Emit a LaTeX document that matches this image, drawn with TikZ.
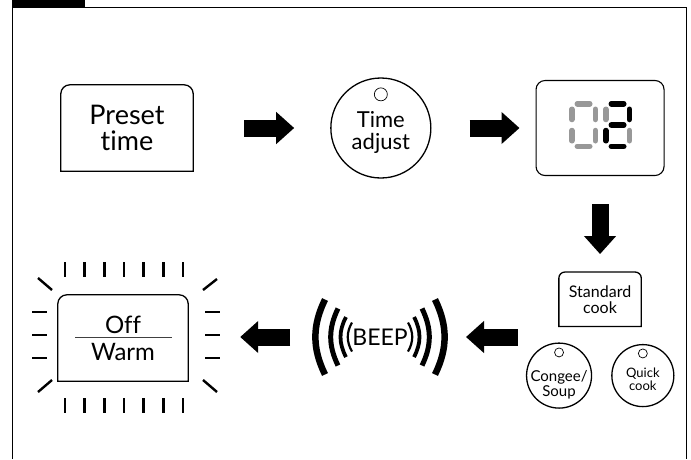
\documentclass[tikz,border=0pt]{standalone}
\usepackage{fontspec}
\setmainfont{Lato}[Ligatures=NoCommon]
\usepackage{tikz}
\usetikzlibrary{arrows.meta,positioning,calc}
\definecolor{lcdoff}{RGB}{152,152,152}

\begin{document}
\begin{tikzpicture}[x=1pt, y=-1pt, >=Latex]
\tikzstyle{keybox}=[inner sep=0pt, align=center]
\tikzstyle{knob}=[draw, circle, line width=1.3pt, inner sep=0pt]
\tikzstyle{lbl}=[inner sep=0pt, align=center]
\tikzstyle{led}=[line width=0.7pt]
\tikzstyle{outline}=[line width=1.3pt]
\tikzstyle{blockarrow}=[line width=17pt, -{Triangle[length=18pt,width=31pt]}]
\tikzstyle{ray}=[line width=2.4pt]
\tikzstyle{lcdseg}=[line width=5.5pt, line cap=round, shorten <=5.5pt, shorten >=5.5pt]

\useasboundingbox (0,0) rectangle (691,459);

% frame with tab
\fill (12,0) rectangle (85,8);
\draw[line width=1.8pt] (12.5,459) -- (12.5,7.5) -- (686.5,7.5) -- (686.5,459);

% top row
\node[keybox, minimum width=132pt, minimum height=86pt, font=\fontsize{27}{26}\selectfont] (preset) at (127,128) {Preset\\time};
\node[knob, minimum size=100pt, right=137pt of preset] (timeadj) {};
\node[lbl, font=\fontsize{22}{22}\selectfont] (timeadjtxt) at ([yshift=-4pt]timeadj.center) {Time\\adjust};
\node[draw, line width=1.1pt, rounded corners=9pt, minimum width=128pt, minimum height=95pt, right=104pt of timeadj] (display) {};

% right column
\node[keybox, minimum width=82pt, minimum height=54pt, below=96pt of display, font=\fontsize{16}{16}\selectfont] (stdcook) {Standard\\cook};
\node[knob, minimum size=65pt, below=16pt of stdcook, xshift=-41pt] (congee) {};
\node[knob, minimum size=62pt, right=19pt of congee] (quick) {};
\node[lbl, font=\fontsize{15}{15}\selectfont] (congeetxt) at ([yshift=-9pt]congee.center) {Congee/\\Soup};
\node[lbl, font=\fontsize{13}{13}\selectfont] (quicktxt) at ([yshift=-4pt]quick.center) {Quick\\cook};

% bottom row
\node[lbl, font=\fontsize{23}{23}\selectfont] (beep) at (380,337) {BEEP};
\node[keybox, minimum width=130pt, minimum height=86pt, font=\fontsize{24}{27}\selectfont] (offwarm) at (123,338) {Off\\Warm};

% keys: only the top corners are rounded
\foreach \b/\r in {preset/9, stdcook/6, offwarm/9}
  \draw[outline] (\b.south west) [rounded corners=\r pt] -- (\b.north west) -- (\b.north east) [sharp corners] -- (\b.south east) -- cycle;
\draw[line width=0.9pt, black!75] ([xshift=-48pt,yshift=1pt]offwarm.center) -- ([xshift=49pt,yshift=1pt]offwarm.center);

% leds
\draw[led] ([yshift=-17pt]timeadj.north) circle (6.5pt);
\draw[led] ([yshift=-10pt]congee.north) circle (4.5pt);
\draw[led] ([yshift=-9.5pt]quick.north) circle (4.5pt);

% lcd digits
\begin{scope}[shift={(display.center)}]
  \begin{scope}[shift={(-31,-27)}]
    \foreach \p/\q in {{2.75,2.75}/{26.25,2.75}, {26.25,2.75}/{26.25,24}, {26.25,24}/{26.25,45.25},
                       {2.75,45.25}/{26.25,45.25}, {2.75,24}/{2.75,45.25}, {2.75,2.75}/{2.75,24}}
      \draw[lcdseg, lcdoff] (\p) -- (\q);
  \end{scope}
  \begin{scope}[shift={(3,-27)}]
    \foreach \p/\q in {{26.25,24}/{26.25,45.25}, {2.75,2.75}/{2.75,24}}
      \draw[lcdseg, lcdoff] (\p) -- (\q);
    \foreach \p/\q in {{2.75,2.75}/{26.25,2.75}, {26.25,2.75}/{26.25,24}, {2.75,24}/{26.25,24},
                       {2.75,24}/{2.75,45.25}, {2.75,45.25}/{26.25,45.25}}
      \draw[lcdseg] (\p) -- (\q);
  \end{scope}
\end{scope}

% glow round off/warm
\foreach \i in {0,...,6} {
  \draw[ray] ([shift={(-58+19.67*\i,-76)}]offwarm.center) -- ++(0,15);
  \draw[ray] ([shift={(-58+19.67*\i,60)}]offwarm.center) -- ++(0,15);
}
\foreach \dy in {-26,-3,20} {
  \draw[ray] ([shift={(-91,\dy)}]offwarm.center) -- ++(15,0);
  \draw[ray] ([shift={(82,\dy)}]offwarm.center) -- ++(15,0);
}
\draw[ray] ([shift={(-85,-60)}]offwarm.center) -- ++(14,12);
\draw[ray] ([shift={(80,-48)}]offwarm.center) -- ++(14,-11);
\draw[ray] ([shift={(-85,54)}]offwarm.center) -- ++(14,-12);
\draw[ray] ([shift={(80,42)}]offwarm.center) -- ++(14,12);

% sound waves
\foreach \e/\h/\a/\w in {55/37.5/26/6.5, 42/28.5/26/5, 34/20/28/3.8, 28/14.5/30/2.2} {
  \draw[line width=\w pt] ([shift={(-\e,-\h)}]beep.center) to[bend right=\a] ([shift={(-\e,\h)}]beep.center);
  \draw[line width=\w pt] ([shift={(\e,-\h)}]beep.center) to[bend left=\a] ([shift={(\e,\h)}]beep.center);
}

% arrows
\draw[blockarrow, shorten <=51pt, shorten >=36pt] (preset.east) -- (timeadj.west);
\draw[blockarrow, shorten <=38pt, shorten >=16pt] (timeadj.east) -- (display.west);
\draw[blockarrow, shorten <=28pt, shorten >=18pt] (display.south) -- (stdcook.north);
\draw[blockarrow, shorten <=8pt, shorten >=86pt] (congee.west |- beep.center) -- (beep.center);
\draw[blockarrow, shorten <=90pt, shorten >=52pt] (beep.center) -- (beep.center -| offwarm.east);

\end{tikzpicture}
\end{document}
